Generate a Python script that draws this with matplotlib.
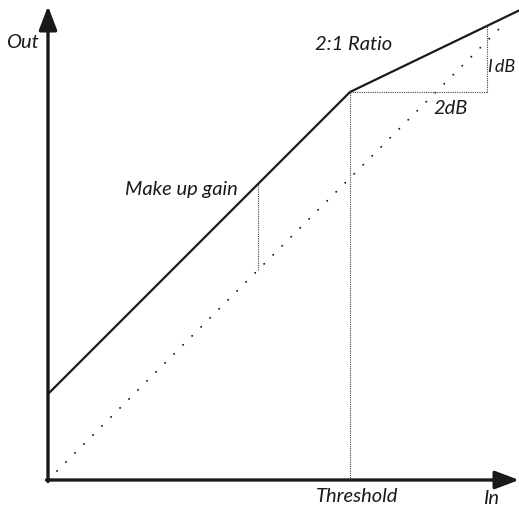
import matplotlib
matplotlib.use('Agg')
import matplotlib.pyplot as plt

# compressor transfer curve, levels in dB (axis corner = 0)
threshold = 30.2
makeup_gain = 8.6
in_max = 47.2

# input levels and output levels of the compressed curve
curve_in = [0, threshold, in_max]
curve_out = [makeup_gain, threshold + makeup_gain, 47.0]

# unity (1:1) reference line
unity_in = [0.9, 45.6]
unity_out = [0.9, 45.6]

# where the make up gain is marked
gain_at = 21.0

# the 2 dB / 1 dB ratio triangle
ratio_step_in = 13.7
ratio_step_out = ratio_step_in / 2

fig = plt.figure(figsize=(5.19, 5.07), dpi=100)
ax = fig.add_axes([0, 0, 1, 1])
ax.set_xlim(-4.8, 47.1)
ax.set_ylim(-2.7, 48.0)
ax.axis('off')

# axes with arrow heads
arrow = dict(arrowstyle='-|>,head_length=1.45,head_width=0.55', lw=2.4,
             color='#1a1a1a', mutation_scale=10, shrinkA=0, shrinkB=0)
ax.annotate('', xy=(0, 47.4), xytext=(0, -0.15), arrowprops=arrow)
ax.annotate('', xy=(47.1, 0), xytext=(-0.15, 0), arrowprops=arrow)

# unity line as round dots
ax.plot(unity_in, unity_out, color='#1a1a1a', lw=1.4,
        linestyle=(0, (0.05, 6.5)), dash_capstyle='round')

# compressed output
ax.plot(curve_in, curve_out, color='#1a1a1a', lw=1.6, solid_capstyle='butt')

fine = dict(color='#444444', lw=0.8, linestyle=(0, (1, 1)))
knee_out = threshold + makeup_gain
# threshold marker
ax.plot([threshold, threshold], [0, knee_out], **fine)
# make up gain marker
ax.plot([gain_at, gain_at], [gain_at, gain_at + makeup_gain], **fine)
# ratio triangle
ax.plot([threshold, threshold + ratio_step_in], [knee_out, knee_out], **fine)
ax.plot([threshold + ratio_step_in, threshold + ratio_step_in],
        [knee_out, knee_out + ratio_step_out], **fine)

txt = dict(fontfamily='Lato', fontstyle='italic', fontsize=14.5,
           color='#1a1a1a', ha='center', va='center')
ax.text(-2.6, 43.7, 'Out', **txt)
ax.text(13.3, 29.0, 'Make up gain', **txt)
ax.text(30.6, 43.6, '2:1 Ratio', **txt)
ax.text(44.0, 41.3, 'I\u2009dB', **{**txt, 'ha': 'left', 'fontsize': 13})
ax.text(40.3, 37.1, '2dB', **txt)
ax.text(30.9, -1.7, 'Threshold', **txt)
ax.text(44.3, -1.8, 'In', **txt)

plt.savefig('out.png', dpi=100)
plt.close()
